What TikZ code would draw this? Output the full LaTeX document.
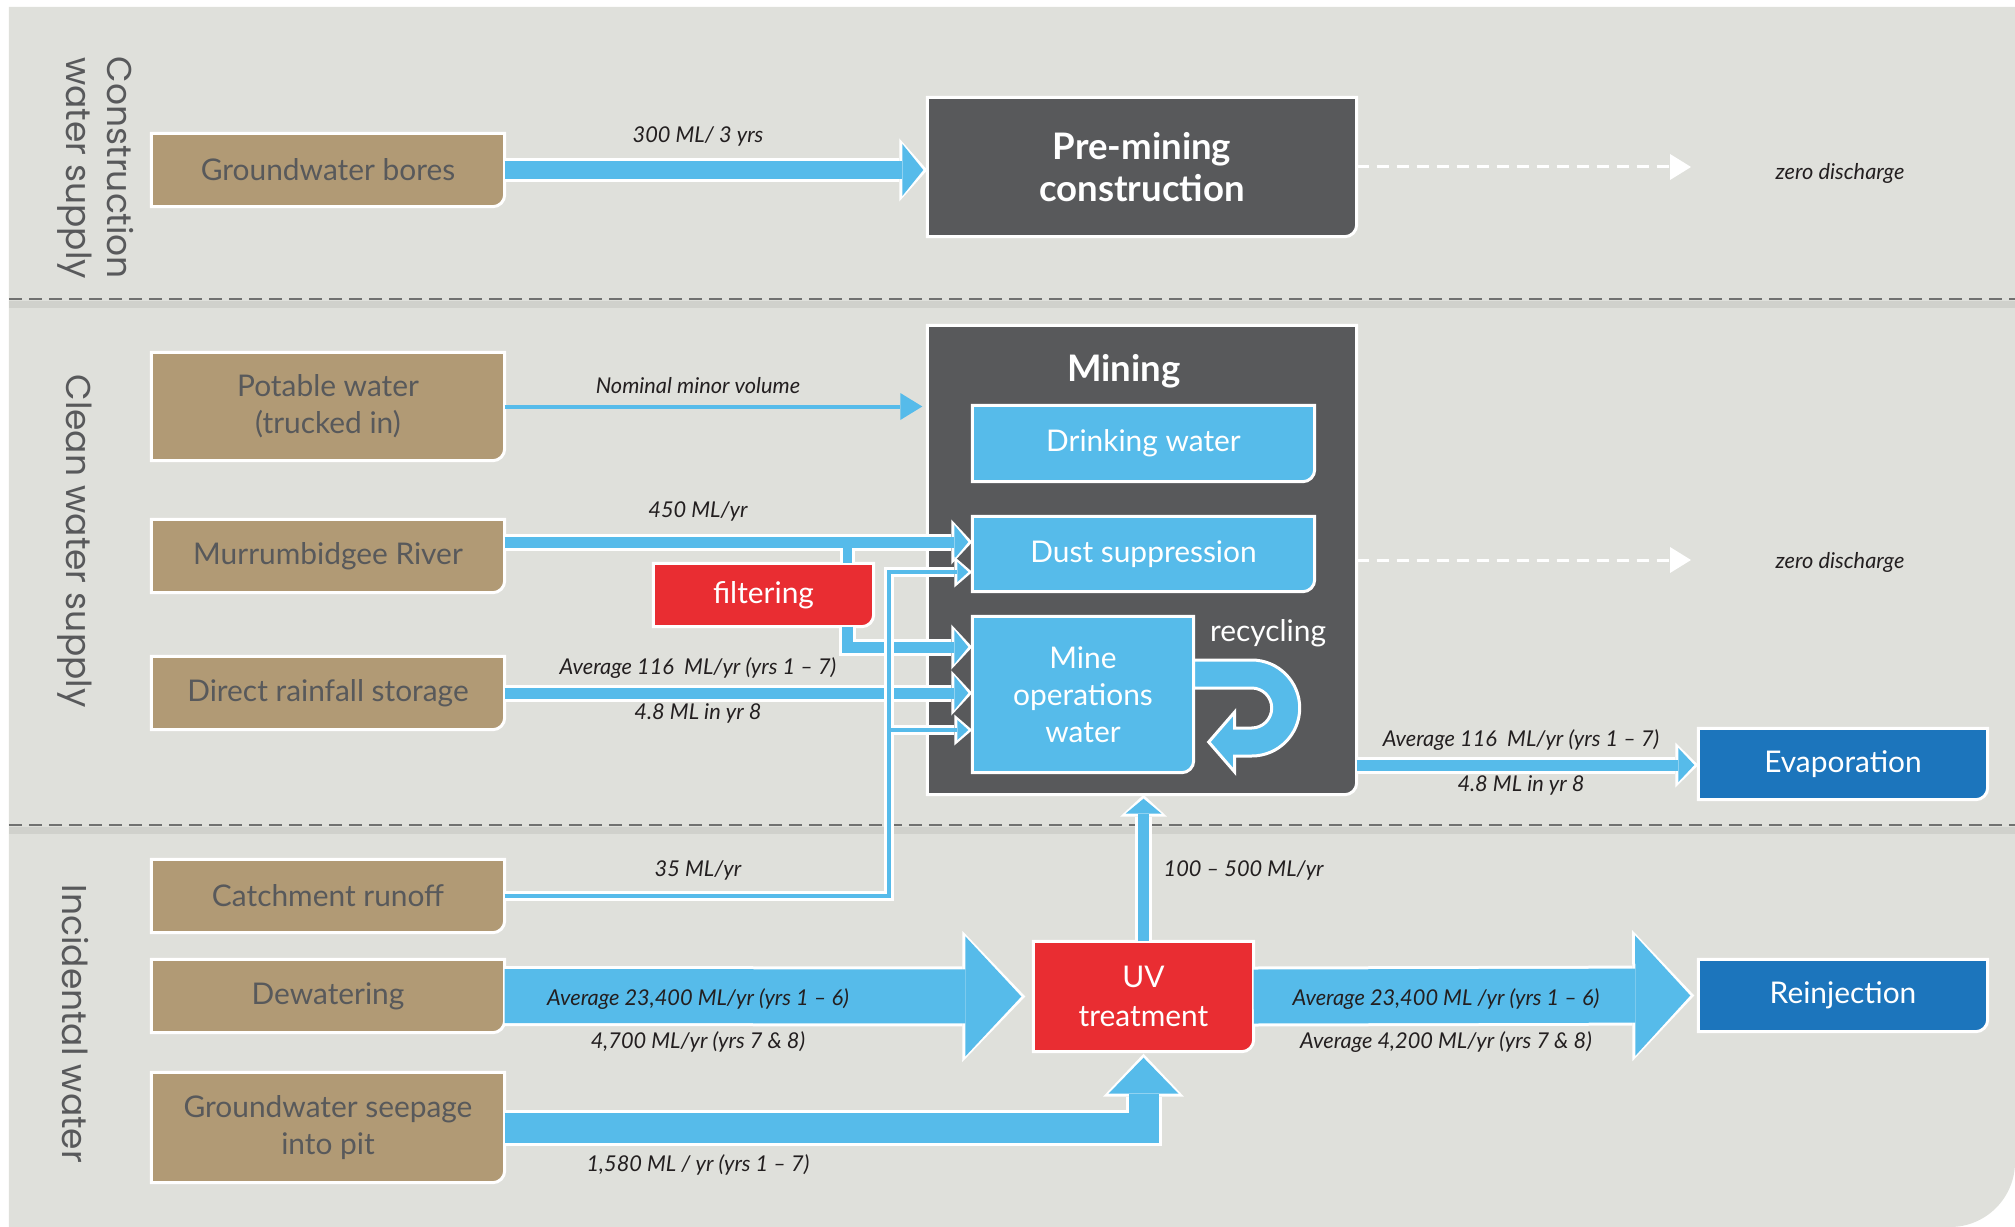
\documentclass[tikz,border=0pt]{standalone}
\usepackage{fontspec}
\setmainfont{Lato}
\newfontfamily\sidefont{Poppins}
\usetikzlibrary{arrows.meta,backgrounds}

\definecolor{bggray}{HTML}{DFE0DB}
\definecolor{shadowgray}{HTML}{D0D1CC}
\definecolor{sepgray}{HTML}{707170}
\definecolor{boxtan}{HTML}{B19A75}
\definecolor{inkgray}{HTML}{58595B}
\definecolor{minegray}{HTML}{58595B}
\definecolor{flowblue}{HTML}{56BBEA}
\definecolor{deepblue}{HTML}{1C75BC}
\definecolor{alertred}{HTML}{E92D32}
\definecolor{labelink}{HTML}{231F20}

% blue flow band with white rim: band, head width, head length, path
\newcommand{\flowpipe}[4]{%
  \pgfmathsetmacro\pipeout{#1+0.06}%
  \pgfmathsetmacro\headout{#2+0.11}%
  \pgfmathsetmacro\lenout{#3+0.07}%
  \draw[white, line width=\pipeout cm, -{Triangle[length=\lenout cm, width=\headout cm, line width=0pt]}] #4;
  \draw[flowblue, line width=#1cm, -{Triangle[length=#3cm, width=#2cm, line width=0pt]}, shorten >=0.04cm] #4;
}

\begin{document}
\begin{tikzpicture}[
  srcbox/.style={minimum width=3.52cm, minimum height=0.72cm, inner sep=0pt, align=center, text=inkgray, font=\fontsize{8.5}{10.6}\selectfont},
  whitebox/.style={inner sep=0pt, align=center, text=white, font=\fontsize{8.5}{10.6}\selectfont},
  headbox/.style={inner sep=0pt, align=center, text=white, font=\fontsize{10.4}{12}\selectfont\bfseries},
  flowlabel/.style={inner sep=0pt, text=labelink, font=\fontsize{6.2}{7.4}\selectfont\itshape},
  sidelabel/.style={rotate=-90, inner sep=0pt, align=center, text=inkgray, font=\fontsize{9.8}{11.8}\selectfont\sidefont},
  sepline/.style={sepgray, line width=0.025cm, dash pattern=on 0.13cm off 0.07cm},
  sepshadow/.style={shadowgray, line width=0.07cm},
  discharge/.style={white, line width=0.03cm, dash pattern=on 0.12cm off 0.08cm, -{Triangle[length=0.21cm, width=0.26cm, line width=0pt]}}
]

\useasboundingbox (0,0) rectangle (20.15,-12.27);

% side labels
\node[sidelabel] (seccons) at (0.955,-1.68) {Construction\\water supply};
\node[sidelabel] (secclean) at (0.75,-5.41) {Clean water supply};
\node[sidelabel] (secincid) at (0.75,-10.24) {Incidental water};

% sources
\node[srcbox] (gwb) at (3.28,-1.70) {Groundwater bores};
\node[srcbox, minimum height=1.07cm] (pot) at (3.28,-4.065) {Potable water\\(trucked in)};
\node[srcbox] (mur) at (3.28,-5.56) {Murrumbidgee River};
\node[srcbox] (rain) at (3.28,-6.93) {Direct rainfall storage};
\node[srcbox] (catch) at (3.28,-8.96) {Catchment runoff};
\node[srcbox] (dew) at (3.28,-9.96) {Dewatering};
\node[srcbox, minimum height=1.09cm] (seep) at (3.28,-11.275) {Groundwater seepage\\into pit};

% uses
\node[headbox, minimum width=4.28cm, minimum height=1.38cm] (pre) at (11.42,-1.67) {Pre-mining\\construction};
\node[minimum width=4.28cm, minimum height=4.68cm, inner sep=0pt] (mining) at (11.42,-5.60) {};
\node[headbox] (minetitle) at (11.24,-3.71) {Mining};
\node[whitebox, minimum width=3.41cm, minimum height=0.75cm] (drink) at (11.435,-4.435) {Drinking water};
\node[whitebox, minimum width=3.41cm, minimum height=0.74cm] (dust) at (11.435,-5.54) {Dust suppression};
\node[whitebox, minimum width=2.20cm, minimum height=1.55cm] (mops) at (10.83,-6.945) {Mine\\operations\\water};
\node[whitebox] (recyc) at (12.68,-6.33) {recycling};
\node[whitebox, minimum width=2.19cm, minimum height=0.62cm] (filt) at (7.635,-5.95) {filtering};
\node[whitebox, minimum width=2.19cm, minimum height=1.09cm, font=\fontsize{8.5}{11}\selectfont] (uv) at (11.435,-9.965) {UV\\treatment};
\node[whitebox, minimum width=2.88cm, minimum height=0.70cm] (evap) at (18.43,-7.64) {Evaporation};
\node[whitebox, minimum width=2.88cm, minimum height=0.71cm] (reinj) at (18.43,-9.955) {Reinjection};

\begin{pgfonlayer}{background}
\fill[bggray] (0.09,-0.07) -- (20.15,-0.07) -- (20.15,-11.62) arc[start angle=0, end angle=-90, radius=0.65] -- (0.09,-12.27) -- cycle;
\foreach \y in {2.99,8.25} {
  \draw[sepshadow] (0.09,-\y-0.05) -- (20.15,-\y-0.05);
  \draw[sepline] (0.09,-\y) -- (20.15,-\y);
}
\foreach \n/\c in {gwb/boxtan,pot/boxtan,mur/boxtan,rain/boxtan,catch/boxtan,dew/boxtan,seep/boxtan,pre/minegray,mining/minegray,drink/flowblue,dust/flowblue,mops/flowblue,filt/alertred,uv/alertred,evap/deepblue,reinj/deepblue}
  \filldraw[fill=\c, draw=white, line width=0.03cm] (\n.north west) -- (\n.north east) -- ([yshift=0.12cm]\n.south east) arc[start angle=0, end angle=-90, radius=0.12cm] -- (\n.south west) -- cycle;
\end{pgfonlayer}

% join points
\coordinate (murout) at ([yshift=0.14cm]mur.east);
\coordinate (filtout) at ([xshift=0.835cm]filt.south);
\coordinate (stubtop) at (filtout |- murout);
\coordinate (mopsin) at ([yshift=0.475cm]mops.west);
\coordinate (dustin) at ([yshift=-0.18cm]dust.west);
\coordinate (mopslow) at ([yshift=-0.355cm]mops.west);
\coordinate (cj) at ([xshift=3.84cm]catch.east);
\coordinate (cb) at (cj |- mopslow);
\coordinate (minout) at ([yshift=-2.05cm]mining.east);
\coordinate (zd) at (16.91,-1.67);

% flows
\flowpipe{0.18}{0.52}{0.21}{(gwb.east) -- (gwb.east -| pre.west)}
\draw[flowblue, line width=0.04cm, -{Triangle[length=0.22cm, width=0.27cm, line width=0pt]}, shorten >=0.05cm] (pot.east) -- (pot.east -| mining.west);
\flowpipe{0.11}{0.34}{0.14}{(murout) -- (murout -| dust.west)}
\draw[white, line width=0.15cm] ([yshift=-0.07cm]stubtop) -- (filtout |- filt.north);
\draw[flowblue, line width=0.09cm] (stubtop) -- (filtout |- filt.north);
\flowpipe{0.11}{0.34}{0.14}{(filtout) |- (mopsin)}
\flowpipe{0.11}{0.34}{0.14}{(rain.east) -- (rain.east -| mops.west)}
\flowpipe{0.04}{0.20}{0.11}{(catch.east) -- (cj) |- (dustin)}
\flowpipe{0.04}{0.20}{0.11}{([xshift=0.02cm]cb) -- (mopslow)}
\flowpipe{0.11}{0.34}{0.16}{(minout) -- (minout -| evap.west)}
\flowpipe{0.54}{1.20}{0.56}{(dew.east) -- ([xshift=-0.08cm]uv.west)}
\flowpipe{0.54}{1.20}{0.55}{(uv.east) -- ([xshift=-0.04cm]reinj.west)}
\flowpipe{0.30}{0.70}{0.36}{(seep.east) -| ([yshift=-0.02cm]uv.south)}
\flowpipe{0.11}{0.36}{0.15}{(uv.north) -- (uv.north |- mining.south)}

% recycling loop
\draw[white, fill=flowblue, line width=0.03cm] ([yshift=0.345cm]mops.east) -- ++(0.58,0) arc[start angle=90, end angle=-90, radius=0.48] -- ++(-0.17,0) -- ++(0,-0.16) -- ++(-0.26,0.30) -- ++(0.26,0.30) -- ++(0,-0.16) -- ++(0.17,0) arc[start angle=-90, end angle=90, radius=0.20] -- ++(-0.58,0) -- cycle;

% zero discharge
\draw[discharge] (pre.east) -- (zd);
\draw[discharge] (mining.east) -- (mining.east -| zd);
\node[flowlabel] (zero1) at (18.40,-1.73) {zero discharge};
\node[flowlabel] (zero2) at (18.40,-5.62) {zero discharge};

% volumes
\node[flowlabel] (qbores) at (6.98,-1.36) {300 ML/ 3 yrs};
\node[flowlabel] (qpot) at (6.98,-3.86) {Nominal minor volume};
\node[flowlabel] (qmur) at (6.98,-5.11) {450 ML/yr};
\node[flowlabel] (qrain) at (6.98,-6.68) {Average 116\ \ ML/yr (yrs 1 – 7)};
\node[flowlabel] (qrain8) at (6.98,-7.13) {4.8 ML in yr 8};
\node[flowlabel] (qcatch) at (6.98,-8.70) {35 ML/yr};
\node[flowlabel] (qdew) at (6.98,-9.99) {Average 23,400 ML/yr (yrs 1 – 6)};
\node[flowlabel] (qdew78) at (6.98,-10.42) {4,700 ML/yr (yrs 7 \& 8)};
\node[flowlabel] (qseep) at (6.98,-11.65) {1,580 ML / yr (yrs 1 – 7)};
\node[flowlabel, anchor=west] (quv) at (11.63,-8.70) {100 – 500 ML/yr};
\node[flowlabel] (qevap) at (15.21,-7.40) {Average 116\ \ ML/yr (yrs 1 – 7)};
\node[flowlabel] (qevap8) at (15.21,-7.85) {4.8 ML in yr 8};
\node[flowlabel] (qreinj) at (14.46,-9.99) {Average 23,400 ML /yr (yrs 1 – 6)};
\node[flowlabel] (qreinj78) at (14.46,-10.42) {Average 4,200 ML/yr (yrs 7 \& 8)};

\end{tikzpicture}
\end{document}
